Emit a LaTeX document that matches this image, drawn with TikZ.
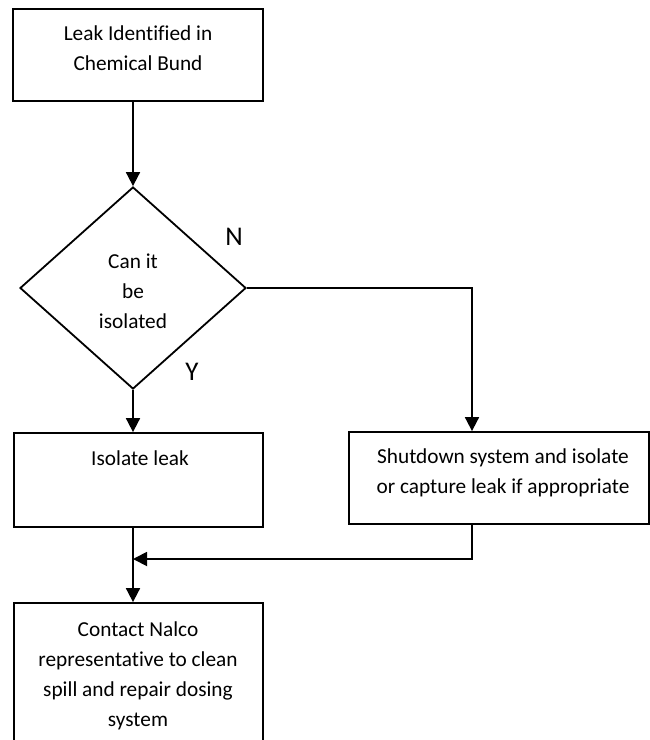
\documentclass[tikz,border=0pt]{standalone}
\usepackage{fontspec}
\setmainfont[Ligatures=NoCommon]{Carlito}
\usetikzlibrary{arrows.meta,shapes.geometric}
\begin{document}
\begin{tikzpicture}[x=1pt,y=-1pt,
  box/.style={draw, line width=1.8pt, rectangle, inner sep=0pt},
  decision/.style={draw, line width=1.8pt, diamond, inner sep=0pt},
  txt/.style={font=\fontsize{21.3}{30}\selectfont, align=center, inner sep=0pt, anchor=base},
  yn/.style={font=\fontsize{27}{30}\selectfont, inner sep=0pt},
  flow/.style={line width=1.8pt, -{Triangle[length=14pt,width=14pt]}}
]
\useasboundingbox (0,0) rectangle (650,740);
\clip (0,0) rectangle (650,740);

% process boxes and the decision
\node[box, minimum width=250pt, minimum height=92pt] (leak) at (138,55) {};
\node[decision, minimum width=226pt, minimum height=202pt] (dec) at (133,288) {};
\node[box, minimum width=249pt, minimum height=94pt] (iso) at (138.5,480) {};
\node[box, minimum width=300pt, minimum height=92pt] (shut) at (499,478) {};
\node[box, minimum width=249pt, minimum height=180pt] (act) at (138.5,693) {};

% box texts (anchored at the baseline of their last line)
\node[txt] (leakt) at (138,70) {Leak Identified in\\Chemical Bund};
\node[txt] (dect) at (133,328) {Can it\\be\\isolated};
\node[txt] (isot) at (140,465) {Isolate leak};
\node[txt] (shutt) at (503,493) {Shutdown system and isolate\\or capture leak if appropriate};
\node[txt] (actt) at (138,726) {Contact Nalco\\representative to clean\\spill and repair dosing\\system};

% branch labels
\node[yn] (no) at (234,237) {N};
\node[yn] (yes) at (192,372) {Y};

% connectors
\coordinate (nx) at (472,288);
\coordinate (merge) at (133,559);
\draw[flow] (leak.south -| dec.north) -- (dec.north);
\draw[flow] (dec.south) -- (dec.south |- iso.north);
\draw[flow] (dec.east) -- (nx) -- (nx |- shut.north);
\draw[flow] (iso.south -| dec.south) -- (dec.south |- act.north);
\draw[flow] (nx |- shut.south) |- (merge);
\end{tikzpicture}
\end{document}
